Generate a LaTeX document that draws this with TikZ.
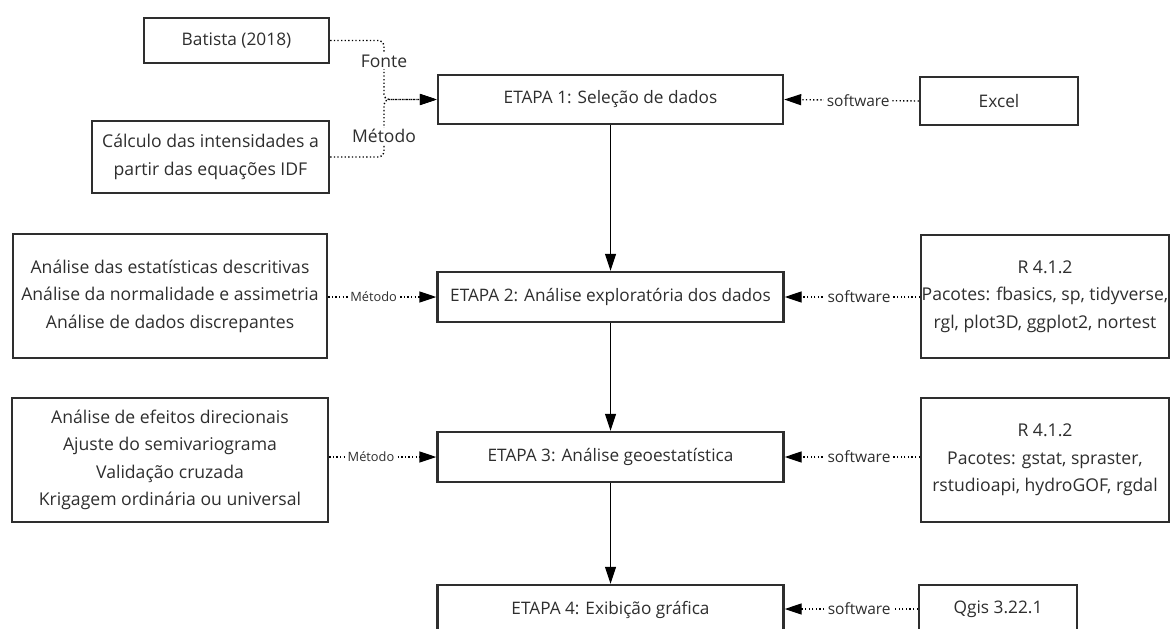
\documentclass[tikz,border=0pt]{standalone}
\usepackage{fontspec}
\setmainfont{Open Sans}
\usetikzlibrary{arrows.meta}
\definecolor{ink}{HTML}{2E2E2E}
\begin{document}
\begin{tikzpicture}[x=1pt,y=-1pt,
  box/.style={draw=ink, line width=2.4pt, text=ink, align=center, inner sep=0pt,
    font=\fontsize{17.2}{27.5}\selectfont},
  wide/.style={box, font=\fontsize{17.6}{27.5}\selectfont},
  mid/.style={box, font=\fontsize{17.3}{27.5}\selectfont},
  head/.style={-{Triangle[length=17pt,width=11pt]}},
  flow/.style={draw=black, line width=1.1pt, head},
  ref/.style={draw=black, line width=1.4pt, dash pattern=on 1.3pt off 2.3pt, head},
  tag/.style={fill=white, inner sep=2.5pt, text=ink, font=\fontsize{15.5}{17}\selectfont},
  mtag/.style={fill=white, inner sep=2.5pt, text=ink, font=\fontsize{12.8}{15}\selectfont},
  bigtag/.style={fill=white, inner sep=1.5pt, text=ink, font=\fontsize{17.5}{20}\selectfont}
]
\clip (0,0) rectangle (1170,629);
\fill[white] (0,0) rectangle (1170,629);

% sources and methods for stage 1
\node[mid, minimum width=185pt, minimum height=45pt] (bat) at (236.5,40.5) {Batista (2018)};
\node[wide, minimum width=237pt, minimum height=72pt] (calc) at (210.5,157)
  {Cálculo das intensidades a\\partir das equações IDF};

% the four stages
\node[box, minimum width=345pt, minimum height=49pt] (e1) at (610.5,99.5) {ETAPA 1: Seleção de dados};
\node[box, minimum width=346pt, minimum height=50pt] (e2) at (610.5,297) {ETAPA 2: Análise exploratória dos dados};
\node[box, minimum width=346pt, minimum height=50pt] (e3) at (610.5,457) {ETAPA 3: Análise geoestatística};
\node[box, minimum width=346pt, minimum height=50pt] (e4) at (610.5,610) {ETAPA 4: Exibição gráfica};

% software boxes
\node[mid, minimum width=158pt, minimum height=48pt] (excel) at (999,101) {Excel};
\node[wide, minimum width=248pt, minimum height=123pt] (r2) at (1045,296.5)
  {R 4.1.2\\Pacotes: fbasics, sp, tidyverse,\\rgl, plot3D, ggplot2, nortest};
\node[wide, minimum width=248pt, minimum height=124pt] (r3) at (1045,460)
  {R 4.1.2\\Pacotes: gstat, spraster,\\rstudioapi, hydroGOF, rgdal};
\node[mid, minimum width=158pt, minimum height=48pt] (qgis) at (998,609) {Qgis 3.22.1};

% method boxes
\node[wide, minimum width=314pt, minimum height=124pt] (m2) at (170,296)
  {Análise das estatísticas descritivas\\Análise da normalidade e assimetria\\Análise de dados discrepantes};
\node[wide, minimum width=316pt, minimum height=124pt] (m3) at (170,460)
  {Análise de efeitos direcionais\\Ajuste do semivariograma\\Validação cruzada\\Krigagem ordinária ou universal};

% main flow
\draw[flow] (e1.south) -- (e2.north);
\draw[flow] (e2.south) -- (e3.north);
\draw[flow] (e3.south) -- (e4.north);

% source and method of stage 1, merging into one arrow
\coordinate (join) at (384,99.5);
\draw[ref, rounded corners=5pt] (bat.east) -| (join) -- (e1.west);
\draw[ref, rounded corners=5pt] (calc.east) -| (join) -- (e1.west);
\node[bigtag] (fonte) at (384,61) {Fonte};
\node[bigtag] (metodo1) at (384,136) {Método};

% software links
\draw[ref] (excel.west) -- node[tag, pos=0.45] (s1) {software} (e1.east);
\draw[ref] (r2.west |- e2.east) -- node[tag, pos=0.45] (s2) {software} (e2.east);
\draw[ref] (r3.west |- e3.east) -- node[tag, pos=0.45] (s3) {software} (e3.east);
\draw[ref] (qgis.west) -- node[tag, pos=0.44] (s4) {software} (e4.east |- qgis.west);

% method links
\draw[ref] (m2.east |- e2.west) -- node[mtag, pos=0.42] (t2) {Método} (e2.west);
\draw[ref] (m3.east |- e3.west) -- node[mtag, pos=0.39] (t3) {Método} (e3.west);
\end{tikzpicture}
\end{document}
